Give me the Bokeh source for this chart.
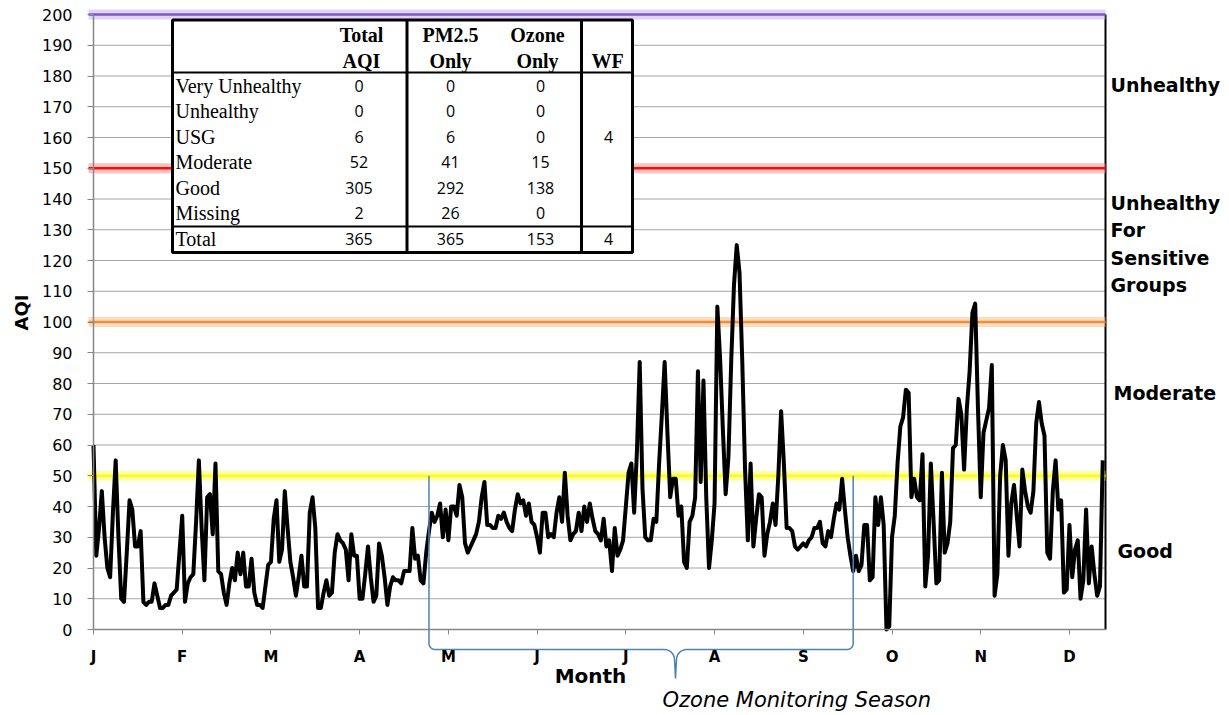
import numpy as np
from bokeh.plotting import figure
from bokeh.models import Range1d, Label, FixedTicker
from bokeh.embed import file_html
from bokeh.resources import INLINE

# ---------------- data ----------------
aqi = [
    60, 24, 33, 45, 30, 20, 17, 38, 55, 30,
    10, 9, 25, 42, 39, 27, 27, 32, 9, 8,
    9, 9, 15, 11, 7, 7, 8, 8, 11, 12,
    13, 25, 37, 9, 15, 17, 18, 35, 55, 33,
    16, 43, 44, 31, 54, 19, 18, 12, 8, 15,
    20, 16, 25, 18, 25, 14, 14, 23, 12, 8,
    8, 7, 14, 21, 22, 36, 42, 22, 26, 45,
    33, 22, 17, 11, 17, 24, 14, 14, 38, 43,
    33, 7, 7, 12, 16, 11, 12, 25, 31, 29,
    28, 26, 16, 31, 24, 24, 10, 10, 18, 27,
    17, 9, 11, 28, 24, 17, 8, 14, 17, 16,
    16, 15, 19, 19, 19, 33, 23, 24, 16, 15,
    25, 32, 38, 35, 37, 41, 30, 39, 29, 40,
    40, 37, 47, 43, 28, 25, 27, 29, 31, 35,
    43, 48, 34, 34, 33, 33, 37, 36, 38, 35,
    33, 32, 39, 44, 41, 42, 37, 41, 35, 34,
    30, 25, 38, 38, 30, 31, 30, 38, 43, 35,
    51, 37, 29, 31, 32, 38, 32, 40, 35, 41,
    36, 32, 31, 29, 36, 27, 29, 19, 33, 24,
    26, 29, 40, 51, 54, 38, 58, 87, 46, 30,
    29, 29, 36, 35, 54, 70, 87, 64, 43, 49,
    49, 37, 40, 22, 20, 35, 37, 43, 84, 48,
    81, 43, 20, 29, 41, 105, 88, 65, 44, 56,
    87, 112, 125, 116, 87, 52, 29, 54, 27, 36,
    44, 43, 24, 31, 35, 41, 34, 50, 71, 54,
    33, 33, 32, 27, 26, 27, 28, 27, 29, 30,
    33, 33, 35, 28, 27, 32, 30, 36, 41, 39,
    49, 39, 30, 24, 19, 24, 19, 21, 34, 34,
    16, 17, 43, 34, 43, 34, 0, 1, 30, 37,
    54, 66, 69, 78, 77, 43, 49, 43, 42, 57,
    14, 24, 54, 35, 15, 16, 51, 25, 28, 35,
    59, 60, 75, 70, 52, 72, 84, 103, 106, 72,
    43, 64, 68, 72, 86, 11, 18, 50, 60, 55,
    24, 41, 47, 37, 27, 52, 45, 40, 38, 45,
    67, 74, 67, 63, 25, 23, 45, 55, 39, 42,
    12, 13, 34, 17, 26, 29, 10, 16, 39, 15,
    27, 18, 11, 14, 55,
]
days = list(range(len(aqi)))

month_ticks = [0, 32, 64, 96, 128, 160, 192, 224, 256, 288, 320, 352]
month_labels = ["J", "F", "M", "A", "M", "J", "J", "A", "S", "O", "N", "D"]
y_ticks = list(range(0, 201, 10))

thresholds = [50, 100, 150, 200]
threshold_core = ["#FFFF00", "#F28A30", "#FF0000", "#7B4FCB"]
threshold_glow = ["#FFFF66", "#FBC08C", "#FF8C8C", "#C7B2F0"]

table_rows = ["Very Unhealthy", "Unhealthy", "USG", "Moderate", "Good", "Missing", "Total"]
total_aqi = [0, 0, 6, 52, 305, 2, 365]
pm25_only = [0, 0, 6, 41, 292, 26, 365]
ozone_only = [0, 0, 0, 15, 138, 0, 153]
wf_days = ["", "", "4", "", "", "", "4"]
table_headers = [("Total", "AQI"), ("PM2.5", "Only"), ("Ozone", "Only"), ("", "WF")]

band_labels = ["Unhealthy", "Unhealthy", "For", "Sensitive", "Groups", "Moderate", "Good"]

ozone_season = (121, 274)   # bracket start / end (day of year)
season_top = 50

# ---------------- layout ----------------
W, H = 1225, 715
X0, X1 = 0, 365
Y0, Y1 = 0, 200
PX_L, PX_R, PX_T, PX_B = 93, 1105, 14, 629   # data-area position on the page


def fx(px):  # page pixel x -> data x
    return X0 + (px - PX_L) * (X1 - X0) / (PX_R - PX_L)


def fy(py):  # page pixel y -> data y
    return Y1 - (py - PX_T) * (Y1 - Y0) / (PX_B - PX_T)


def px_x(d):
    return PX_L + (d - X0) * (PX_R - PX_L) / (X1 - X0)


def px_y(v):
    return PX_T + (Y1 - v) * (PX_B - PX_T) / (Y1 - Y0)


p = figure(width=W, height=H, output_backend="svg", toolbar_location=None,
           x_range=Range1d(fx(0), fx(W)), y_range=Range1d(fy(H), fy(0)),
           min_border=0, min_border_left=0, min_border_right=0,
           min_border_top=0, min_border_bottom=0,
           background_fill_color="white", border_fill_color="white",
           outline_line_color=None)
p.title.visible = False
p.xgrid.visible = False
p.ygrid.visible = False

AX = "#868686"
# x axis (drawn at y = 0)
p.xaxis.fixed_location = Y0
p.xaxis.bounds = (X0, X1)
p.xaxis.ticker = FixedTicker(ticks=month_ticks)
p.xaxis.major_label_overrides = {t: l for t, l in zip(month_ticks, month_labels)}
p.xaxis.major_label_text_font = "DejaVu Sans"
p.xaxis.major_label_text_font_style = "bold"
p.xaxis.major_label_text_font_size = "15px"
p.xaxis.major_label_text_color = "black"
p.xaxis.major_label_standoff = 13
p.xaxis.major_tick_out = 5
p.xaxis.major_tick_in = 0
p.xaxis.minor_tick_line_color = None
p.xaxis.axis_line_color = AX
p.xaxis.axis_line_width = 1.5
p.xaxis.major_tick_line_color = AX

# y axis (drawn at x = 0)
p.yaxis.fixed_location = X0
p.yaxis.bounds = (Y0, Y1)
p.yaxis.ticker = FixedTicker(ticks=y_ticks)
p.yaxis.major_label_text_font = "DejaVu Sans"
p.yaxis.major_label_text_font_size = "16px"
p.yaxis.major_label_text_color = "black"
p.yaxis.major_label_standoff = 15
p.yaxis.major_tick_out = 6
p.yaxis.major_tick_in = 0
p.yaxis.minor_tick_line_color = None
p.yaxis.axis_line_color = AX
p.yaxis.axis_line_width = 1.5
p.yaxis.major_tick_line_color = AX

# horizontal gridlines
p.segment(x0=[X0] * len(y_ticks), x1=[X1] * len(y_ticks), y0=y_ticks, y1=y_ticks,
          line_color="#A6A6A6", line_width=1.2)
# right border
p.segment(x0=[X1], x1=[X1], y0=[Y0], y1=[Y1], line_color="black", line_width=2)

# threshold lines with glow
x_start = [fx(88)] * len(thresholds)
x_end = [X1] * len(thresholds)
p.segment(x0=x_start, x1=x_end, y0=thresholds, y1=thresholds,
          line_color=threshold_glow, line_width=10, line_alpha=0.55)
p.segment(x0=x_start, x1=x_end, y0=thresholds, y1=thresholds,
          line_color=threshold_core, line_width=2.5, line_alpha=0.95)

# AQI series
p.line(days, aqi, line_color="black", line_width=4, line_join="round")

# ---------------- table ----------------
t_left, t_right, t_top, t_bot = 172, 632, 19.5, 252
p.quad(left=[fx(t_left)], right=[fx(t_right)], top=[fy(t_top)], bottom=[fy(t_bot)],
       fill_color="white", line_color="black", line_width=3)
hdr_line, tot_line = 72, 226
col_lines = [406.5, 581]
p.segment(x0=[fx(t_left), fx(t_left)], x1=[fx(t_right), fx(t_right)],
          y0=[fy(hdr_line), fy(tot_line)], y1=[fy(hdr_line), fy(tot_line)],
          line_color="black", line_width=2)
p.segment(x0=[fx(c) for c in col_lines], x1=[fx(c) for c in col_lines],
          y0=[fy(t_top)] * 2, y1=[fy(t_bot)] * 2, line_color="black", line_width=3)

hdr_x = [361, 450, 537, 607]
hdr_y = [34, 60]
for (l1, l2), hx in zip(table_headers, hdr_x):
    for txt, hy in zip((l1, l2), hdr_y):
        if txt:
            p.add_layout(Label(x=fx(hx), y=fy(hy), text=txt, text_font="Liberation Serif",
                               text_font_style="bold", text_font_size="20px",
                               text_align="center", text_baseline="middle", text_color="black"))

row_y0, row_pitch = 85, 25.55
num_x = [358.5, 450, 540, 608]
for i, name in enumerate(table_rows):
    ry = row_y0 + i * row_pitch
    p.add_layout(Label(x=fx(175), y=fy(ry), text=name, text_font="Liberation Serif",
                       text_font_size="20px", text_align="left", text_baseline="middle",
                       text_color="black"))
    vals = [str(total_aqi[i]), str(pm25_only[i]), str(ozone_only[i]), wf_days[i]]
    for v, nx in zip(vals, num_x):
        if v:
            p.add_layout(Label(x=fx(nx), y=fy(ry), text=v, text_font="Open Sans",
                               text_font_size="16px", text_align="center",
                               text_baseline="middle", text_color="black"))

# ---------------- category labels on the right ----------------
band_pos = [(1110, 84), (1110, 202), (1110, 229), (1110, 257), (1110, 284),
            (1113, 392), (1117, 550)]
for txt, (lx, ly) in zip(band_labels, band_pos):
    p.add_layout(Label(x=fx(lx), y=fy(ly), text=txt, text_font="DejaVu Sans",
                       text_font_style="bold", text_font_size="19px",
                       text_align="left", text_baseline="middle", text_color="black"))

# axis titles
p.add_layout(Label(x=fx(21), y=fy(312), text="AQI", angle=np.pi / 2, text_font="DejaVu Sans",
                   text_font_style="bold", text_font_size="18px", text_align="center",
                   text_baseline="middle", text_color="black"))
p.add_layout(Label(x=fx(590), y=fy(675), text="Month", text_font="DejaVu Sans",
                   text_font_style="bold", text_font_size="20px", text_align="center",
                   text_baseline="middle", text_color="black"))

# ---------------- ozone season brace ----------------
xl, xr = px_x(ozone_season[0]), px_x(ozone_season[1])
ytop = px_y(season_top)
yh, ytip, xt, r, rt = 649, 678, 675, 6, 10
pts = [(xl, ytop)]
for a in np.linspace(np.pi, np.pi / 2, 7):
    pts.append((xl + r + r * np.cos(a), yh - r + r * np.sin(a)))
for a in np.linspace(-np.pi / 2, 0, 7):
    pts.append((xt - rt - 1 + rt * np.cos(a), yh + rt + rt * np.sin(a)))
pts.append((xt, ytip))
for a in np.linspace(np.pi, 1.5 * np.pi, 7):
    pts.append((xt + rt + 1 + rt * np.cos(a), yh + rt + rt * np.sin(a)))
for a in np.linspace(np.pi / 2, 0, 7):
    pts.append((xr - r + r * np.cos(a), yh - r + r * np.sin(a)))
pts.append((xr, ytop))
p.line([fx(a) for a, b in pts], [fy(b) for a, b in pts], line_color="#4F81BD", line_width=1.5)

p.add_layout(Label(x=fx(662), y=fy(699), text="Ozone  Monitoring Season", text_font="DejaVu Sans",
                   text_font_style="italic", text_font_size="21px", text_align="left",
                   text_baseline="middle", text_color="black"))

open("out.html", "w").write(file_html(p, INLINE))
